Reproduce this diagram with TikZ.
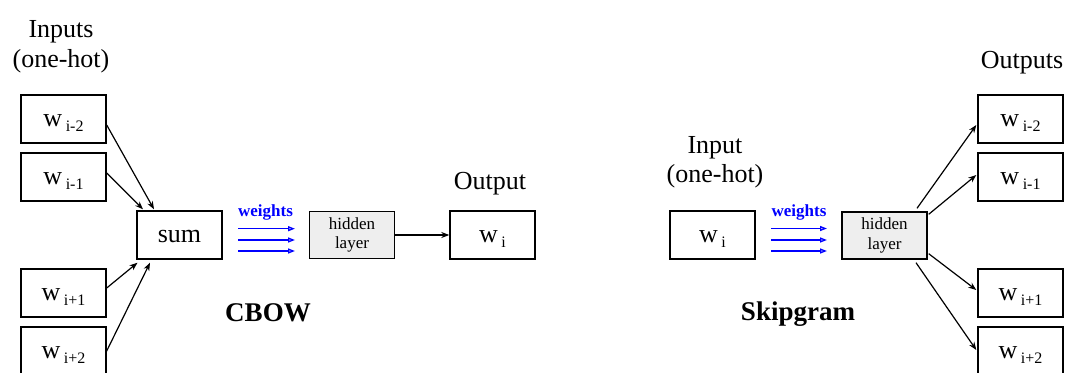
\documentclass[tikz,border=0pt]{standalone}
\usepackage{fontspec}
\setmainfont{Liberation Serif}
\usetikzlibrary{arrows.meta}
\definecolor{hidgray}{RGB}{238,238,238}
\newcommand\wsub[1]{w\hspace{3.5pt}\raisebox{-5pt}{\fontsize{16}{16}\selectfont #1}}
\begin{document}
\begin{tikzpicture}[x=1pt,y=-1pt,
  box/.style={draw=black, line width=1.4pt, minimum width=85pt, minimum height=48pt, inner sep=0pt, text height=18pt, text depth=2.6pt, font=\fontsize{26}{26}\selectfont},
  hid/.style={draw=black, line width=1.4pt, fill=hidgray, minimum width=85pt, minimum height=47pt, inner sep=0pt, align=center, font=\fontsize{17}{19.5}\selectfont},
  lbl/.style={anchor=base, inner sep=0pt, font=\fontsize{26}{26}\selectfont},
  ttl/.style={anchor=base, inner sep=0pt, font=\fontsize{27}{27}\selectfont\bfseries},
  wlbl/.style={anchor=base, inner sep=0pt, text=blue, font=\fontsize{17}{17}\selectfont\bfseries},
  arr/.style={-{Stealth[length=8pt,width=6pt,inset=2.5pt]}, line width=1.2pt},
  warr/.style={-{Triangle[open,length=7pt,width=5pt]}, draw=blue, line width=1.3pt}
]
\path[use as bounding box] (0,0) rectangle (1067,372);
\clip (0,0) rectangle (1067,372);

% ---------- CBOW ----------
\node[lbl] (inlbl1) at (61,37) {Inputs};
\node[lbl] (inlbl2) at (61,67) {(one-hot)};
\node[box] (wm2) at (63.5,119) {\wsub{i-2}};
\node[box] (wm1) at (63.5,177) {\wsub{i-1}};
\node[box] (wp1) at (63.5,293) {\wsub{i+1}};
\node[box] (wp2) at (63.5,351) {\wsub{i+2}};
\node[box] (sum) at (179.5,235) {sum};
\node[hid] (hidA) at (352,235) {hidden\\layer};
\node[box] (outA) at (492.5,235) {\wsub{i}};
\node[lbl] (outlbl) at (490,189) {Output};
\node[ttl] (cbow) at (268,321.5) {CBOW};
\node[wlbl] (wA) at (265.5,216.5) {weights};

\draw[arr] ([yshift=-6pt]wm2.east) -- ([xshift=-25.5pt,yshift=1pt]sum.north);
\draw[arr] ([yshift=4pt]wm1.east) -- ([xshift=-36.5pt,yshift=1pt]sum.north);
\draw[arr] ([yshift=5pt]wp1.east) -- ([xshift=-42pt,yshift=-3pt]sum.south);
\draw[arr] (wp2.east) -- ([xshift=-29.5pt,yshift=-3pt]sum.south);
\draw[arr] (hidA.east) -- (outA.west);

\coordinate (a1s) at (238,228.7); \coordinate (a1e) at (295,228.7);
\coordinate (a2s) at (238,240);   \coordinate (a2e) at (295,240);
\coordinate (a3s) at (238,251);   \coordinate (a3e) at (295,251);
\draw[warr] (a1s) -- (a1e);
\draw[warr] (a2s) -- (a2e);
\draw[warr] (a3s) -- (a3e);

% ---------- Skipgram ----------
\node[lbl] (inlbl3) at (715,153) {Input};
\node[lbl] (inlbl4) at (715,182) {(one-hot)};
\node[box] (inB) at (712.5,235) {\wsub{i}};
\node[hid] (hidB) at (884.5,235.5) {hidden\\layer};
\node[lbl] (outslbl) at (1022,68) {Outputs};
\node[box] (om2) at (1020.5,119) {\wsub{i-2}};
\node[box] (om1) at (1020.5,177) {\wsub{i-1}};
\node[box] (op1) at (1020.5,293) {\wsub{i+1}};
\node[box] (op2) at (1020.5,351) {\wsub{i+2}};
\node[ttl] (skip) at (798,320.5) {Skipgram};
\node[wlbl] (wB) at (799,216.5) {weights};

\coordinate (b1s) at (771,228.5); \coordinate (b1e) at (827,228.5);
\coordinate (b2s) at (771,240);   \coordinate (b2e) at (827,240);
\coordinate (b3s) at (771,251);   \coordinate (b3e) at (827,251);
\draw[warr] (b1s) -- (b1e);
\draw[warr] (b2s) -- (b2e);
\draw[warr] (b3s) -- (b3e);

\draw[arr] ([xshift=32.5pt,yshift=3pt]hidB.north) -- ([xshift=-1pt,yshift=-6pt]om2.west);
\draw[arr] ([xshift=1pt,yshift=-3pt]hidB.north east) -- ([xshift=-1pt,yshift=2pt]om1.west);
\draw[arr] ([xshift=1pt,yshift=6pt]hidB.south east) -- ([xshift=-1pt,yshift=3pt]op1.west);
\draw[arr] ([xshift=31.5pt,yshift=-3pt]hidB.south) -- ([xshift=-1pt,yshift=1pt]op2.west);
\end{tikzpicture}
\end{document}
